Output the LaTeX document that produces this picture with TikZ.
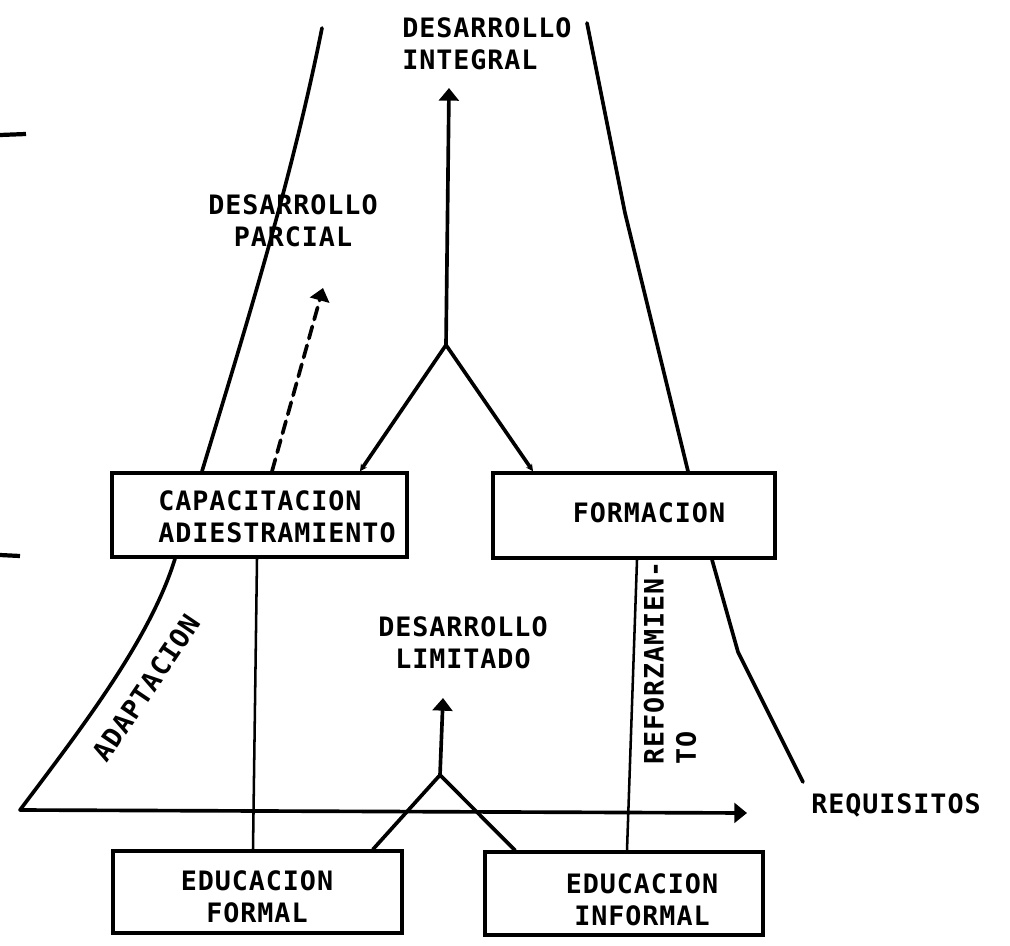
\documentclass[tikz,border=0pt]{standalone}
\usepackage{fontspec}
\newfontfamily\maquina{DejaVu Sans Mono}[LetterSpace=3.5]
\usepackage{tikz}
\usetikzlibrary{arrows.meta,calc}

\tikzset{
  linea/.style={line width=2.6pt, line cap=round},
  delgada/.style={line width=1.8pt},
  caja/.style={draw, line width=2.4pt, inner sep=0pt},
  rotulo/.style={font=\maquina\bfseries\fontsize{19}{22.8}\selectfont, inner sep=0pt, align=center},
  flecha/.style={-{Triangle[length=9pt,width=14pt]}},
  flechita/.style={-{Stealth[length=5pt,width=5pt]}},
}

\begin{document}
\begin{tikzpicture}[x=0.025cm, y=-0.025cm]
  \useasboundingbox (0,0) rectangle (1010,945);
  % cajas
  \node[caja, minimum width=7.375cm, minimum height=2.1cm] (capac) at (259.5,515) {};
  \node[caja, minimum width=7.05cm, minimum height=2.125cm] (formac) at (634,515.5) {};
  \node[caja, minimum width=7.225cm, minimum height=2.05cm] (edufor) at (257.5,892) {};
  \node[caja, minimum width=6.95cm, minimum height=2.075cm] (eduinf) at (624,893.5) {};
  \node[rotulo, align=left, anchor=west] (capactxt) at (158,517) {CAPACITACION\\ADIESTRAMIENTO};
  \node[rotulo] (formactxt) at (649,513) {FORMACION};
  \node[rotulo] (edufortxt) at (257,897) {EDUCACION\\FORMAL};
  \node[rotulo] (eduinftxt) at (642,900) {EDUCACION\\INFORMAL};
  % rotulos sueltos
  \node[rotulo, align=left, anchor=west] (integraltxt) at (402,44) {DESARROLLO\\INTEGRAL};
  \node[rotulo] (parcialtxt) at (293,221) {DESARROLLO\\PARCIAL};
  \node[rotulo] (limitadotxt) at (463,643) {DESARROLLO\\LIMITADO};
  \node[rotulo, rotate=56] (adaptxt) at (146,688) {ADAPTACION};
  \node[rotulo, align=left, rotate=90] (refuerzotxt) at (670,663) {REFORZAMIEN-\\TO};
  \node[rotulo] (requistxt) at (896,805) {REQUISITOS};
  % puntos
  \coordinate (nudo) at (446,345);
  \coordinate (nudob) at (440,775);
  \coordinate (origen) at (20,810);
  % embudo de arriba
  \draw[linea] (322,28) .. controls (292,178) and (247,323) .. ($(capac.north)+(-57.5,0)$);
  \draw[linea] (587,23) -- (625,213) -- ($(formac.north)+(54,0)$);
  \draw[linea, flecha] (nudo) -- (449,88);
  \draw[linea, flechita] (nudo) -- ($(capac.north)+(100.5,0)$);
  \draw[linea, flechita] (nudo) -- ($(formac.north)+(-101,0)$);
  \draw[linea, flecha, dash pattern=on 9pt off 5pt] ($(capac.north)+(12.5,0)$) -- (323,288);
  % parte de abajo
  \draw[linea] ($(capac.south)+(-84.5,0)$) .. controls (150,640) and (80,730) .. (origen);
  \draw[linea, flecha] (origen) -- (747,813);
  \draw[delgada] ($(capac.south)+(-2.5,0)$) -- ($(edufor.north)+(-4.5,0)$);
  \draw[delgada] ($(formac.south)+(3,0)$) -- ($(eduinf.north)+(3,0)$);
  \draw[linea] ($(formac.south)+(78,0)$) -- (738,652) -- (803,782);
  \draw[linea, flecha] (nudob) -- (443,698);
  \draw[linea] ($(edufor.north)+(115.5,0)$) -- (nudob) -- ($(eduinf.north)+(-109,0)$);
  % restos al margen
  \draw[line width=3pt] (0,135) -- (26,134);
  \draw[line width=3pt] (0,555) -- (20,556);
\end{tikzpicture}
\end{document}
